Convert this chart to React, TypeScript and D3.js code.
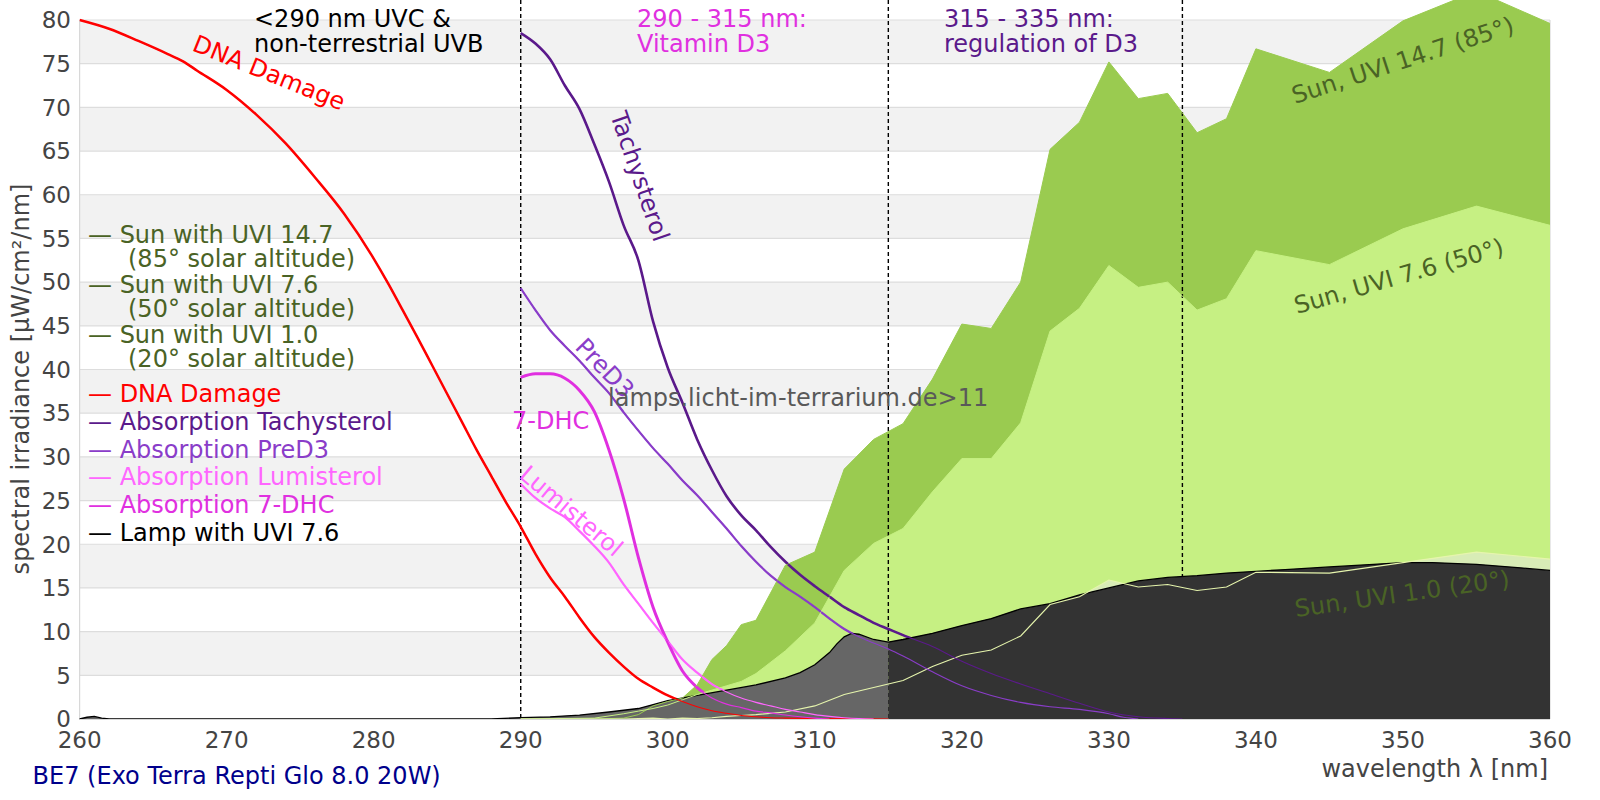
import React from 'react';
import * as d3 from 'd3';

type P = [number, number];

const W = 1600;
const H = 800;

const xTickValues = [260, 270, 280, 290, 300, 310, 320, 330, 340, 350, 360];
const yTickValues = [0, 5, 10, 15, 20, 25, 30, 35, 40, 45, 50, 55, 60, 65, 70, 75, 80];
const regionBounds = [290, 315, 335];

const dnaDamage: P[] = [[260,80],[262,79],[264,77.6],[266,76.1],[267,75.3],[268,74.2],[270,72.0],[272,69.2],[274,65.9],[276,62.0],[278,57.8],[280,52.7],[281,49.8],[282,46.7],[283,43.6],[284,40.4],[285,37.2],[286,34.0],[287,30.8],[288,27.8],[289,24.8],[290,22.0],[291,18.9],[292,16.2],[293,14.0],[294,11.6],[295,9.4],[296,7.6],[297,6.0],[298,4.6],[299,3.6],[300,2.7],[301,2.0],[302,1.4],[303,0.95],[304,0.65],[305,0.4],[306,0.25],[307,0.15],[308,0.1],[310,0.04],[315,0]];

const tachysterol: P[] = [[290,78.5],[291,77.3],[292,75.5],[293,72.5],[294,69.8],[295,65.8],[296,61.5],[297,56.5],[298,52.5],[299,45.5],[300,40.2],[301,36.2],[302,32.0],[303,28.5],[304,25.5],[305,23.3],[306,21.6],[307,19.7],[308,18.0],[309,16.5],[310,15.2],[311,14.0],[312,12.8],[313,11.9],[314,11.0],[315,10.3],[316,9.6],[318,8.3],[320,6.6],[322,5.2],[324,4.0],[326,2.9],[328,1.8],[330,0.8],[332,0.25],[334,0.05],[335,0]];

const preD3: P[] = [[290,49.3],[291,46.8],[292,44.5],[293,42.7],[294,41.0],[295,39.1],[296,37.3],[297,35.1],[298,33.0],[299,31.0],[300,29.2],[301,27.3],[302,25.6],[303,23.7],[304,21.8],[305,19.8],[306,18.0],[307,16.4],[308,15.1],[309,14.0],[310,12.8],[311,11.5],[312,10.3],[313,9.4],[314,8.7],[315,8.0],[316,7.2],[318,5.4],[320,3.8],[322,2.7],[324,1.9],[326,1.4],[328,1.1],[330,0.6],[331,0.2],[332,0]];

const lumisterol: P[] = [[290,26.9],[291,25.3],[292,24.1],[293,23.1],[294,21.5],[295,19.8],[296,17.9],[297,15.4],[298,13.2],[299,11.0],[300,8.9],[301,6.8],[302,5.3],[303,4.0],[304,3.1],[305,2.4],[306,1.9],[307,1.5],[308,1.1],[309,0.8],[310,0.5],[311,0.3],[312,0.15],[313,0.05],[314,0]];

const dhc7: P[] = [[290,39.1],[291,39.5],[292,39.5],[293,39.0],[294,37.6],[295,35.2],[296,30.8],[297,25.2],[298,18.5],[299,12.8],[300,8.8],[301,5.5],[302,3.6],[303,2.4],[304,1.7],[305,1.3],[306,0.9],[307,0.7],[308,0.45],[309,0.25],[310,0.1],[311,0]];

const sunWavelengths = [290, 295, 297, 298, 299, 300, 301, 302, 303, 304, 305, 306, 308, 310, 312, 314, 316, 318, 320, 322, 324, 326, 328, 330, 332, 334, 336, 338, 340, 345, 350, 355, 360];
const sunUvi147 = [0, 0, 0.1, 0.5, 1.5, 2.0, 2.4, 3.9, 6.8, 8.4, 10.8, 11.3, 17.6, 19.1, 28.6, 32.0, 33.8, 38.9, 45.2, 44.7, 50.0, 65.2, 68.3, 75.2, 71.0, 71.6, 67.1, 68.7, 76.7, 74.0, 79.9, 83.3, 79.6];
const sunUvi76 = [0, 0.1, 0.6, 0.9, 1.2, 1.6, 2.2, 2.8, 3.3, 3.8, 4.3, 5.2, 7.8, 11.0, 17.0, 20.1, 21.8, 26.0, 29.8, 29.8, 33.9, 44.4, 47.0, 51.9, 49.4, 50.0, 46.8, 48.1, 53.6, 52.0, 56.1, 58.7, 56.5];
const sunUvi10 = [0, 0, 0, 0.05, 0.1, 0, 0.1, 0.05, 0.15, 0.3, 0.4, 0.5, 0.8, 1.5, 2.8, 3.6, 4.4, 6.0, 7.3, 7.9, 9.5, 13.1, 14.0, 15.9, 15.1, 15.4, 14.7, 15.1, 16.8, 16.7, 17.9, 19.1, 18.3];

const lampWavelengths = [260, 260.5, 261, 261.5, 262, 288, 290, 292, 294, 296, 298, 300, 302, 304, 306, 308, 309, 310, 311, 311.5, 312, 312.5, 313, 314, 315, 316, 318, 320, 322, 324, 326, 328, 330, 332, 334, 336, 338, 340, 342, 345, 348, 350, 352, 355, 358, 360];
const lampUvi76 = [0, 0.2, 0.3, 0.1, 0, 0, 0.15, 0.25, 0.45, 0.8, 1.2, 2.1, 2.7, 3.3, 3.9, 4.7, 5.3, 6.2, 7.6, 8.6, 9.4, 9.8, 9.7, 9.1, 8.8, 9.1, 9.8, 10.7, 11.5, 12.6, 13.2, 14.2, 15.0, 15.8, 16.2, 16.4, 16.7, 16.9, 17.1, 17.4, 17.7, 17.9, 17.9, 17.7, 17.3, 17.0];

const legendSun = [
  ['— Sun with UVI 14.7', '(85° solar altitude)'],
  ['— Sun with UVI 7.6', '(50° solar altitude)'],
  ['— Sun with UVI 1.0', '(20° solar altitude)'],
];
const legendCurves = ['— DNA Damage', '— Absorption Tachysterol', '— Absorption PreD3', '— Absorption Lumisterol', '— Absorption 7-DHC', '— Lamp with UVI 7.6'];

const C = {
  dna: '#ff0000',
  tach: '#5b1a8b',
  pre: '#8a3dc9',
  lumi: '#ff66ff',
  dhc: '#e030e0',
  lamp: '#000000',
  sunText: '#4a6325',
  sun147: '#9acb50',
  sun76: '#c6f083',
  sun10: '#d8ecb6',
  sun10Line: '#e6f5ad',
  band: '#f2f2f2',
  grid: '#dddddd',
  axisText: '#444444',
};

const FONT = "'DejaVu Sans', Verdana, sans-serif";

export default function App() {
  const x = d3.scaleLinear().domain([260, 360]).range([79.6, 1550]);
  const y = d3.scaleLinear().domain([0, 80]).range([719, 20]);

  const zip = (w: number[], v: number[]): P[] => w.map((d, i) => [d, v[i]] as P);
  const s147 = zip(sunWavelengths, sunUvi147);
  const s76 = zip(sunWavelengths, sunUvi76);
  const s10 = zip(sunWavelengths, sunUvi10);
  const lamp = zip(lampWavelengths, lampUvi76);

  const smooth = d3.line<P>().x(d => x(d[0])).y(d => y(d[1])).curve(d3.curveMonotoneX);
  const straight = d3.line<P>().x(d => x(d[0])).y(d => y(d[1]));
  const area = d3.area<P>().x(d => x(d[0])).y0(y(0)).y1(d => y(d[1]));

  const left = x(260), right = x(360), bottom = y(0);

  const thick: [P[], string, number][] = [
    [dnaDamage, C.dna, 2.5],
    [tachysterol, C.tach, 2.6],
    [preD3, C.pre, 2.2],
    [lumisterol, C.lumi, 2.2],
    [dhc7, C.dhc, 3],
  ];

  return (
    <div>
      <style>{`body{margin:0;}`}</style>
      <svg width={W} height={H} style={{ display: 'block', fontFamily: FONT }}>
        <defs>
          <clipPath id="plot"><rect x={left} y={0} width={right - left} height={bottom} /></clipPath>
          <clipPath id="uvb"><rect x={left} y={0} width={x(315) - left} height={bottom} /></clipPath>
          <clipPath id="uva"><rect x={x(315)} y={0} width={right - x(315)} height={bottom} /></clipPath>
        </defs>
        <rect x={0} y={0} width={W} height={H} fill="#fff" />
        {yTickValues.slice(0, -1).map((v, i) => i % 2 === 1 ? (
          <rect key={'b' + v} x={left} y={y(v + 5)} width={right - left} height={y(v) - y(v + 5)} fill={C.band} />
        ) : null)}
        {yTickValues.map(v => (
          <line key={'g' + v} x1={left} x2={right} y1={y(v)} y2={y(v)} stroke={C.grid} strokeWidth={1.2} />
        ))}
        <line x1={left} x2={left} y1={y(80)} y2={bottom} stroke="#d8d8d8" strokeWidth={1.2} />
        <line x1={right} x2={right} y1={y(80)} y2={bottom} stroke="#d8d8d8" strokeWidth={1.2} />

        <g clipPath="url(#plot)">
          <path d={area(s147) || ''} fill={C.sun147} />
          <path d={area(s76) || ''} fill={C.sun76} />
          <path d={area(s10) || ''} fill={C.sun10} />
        </g>

        {regionBounds.map(b => (
          <line key={'d' + b} x1={x(b)} x2={x(b)} y1={0} y2={bottom} stroke="#000" strokeWidth={1.4} strokeDasharray="4,3" />
        ))}

        <g clipPath="url(#plot)" fill="none">
          {thick.map(([data, col, w], i) => (
            <path key={'t' + i} d={smooth(data) || ''} stroke={col} strokeWidth={w} />
          ))}
        </g>

        <path d={area(lamp) || ''} fill="#666666" clipPath="url(#uvb)" />
        <path d={area(lamp) || ''} fill="#333333" clipPath="url(#uva)" />
        <path d={straight(lamp) || ''} fill="none" stroke={C.lamp} strokeWidth={1.3} />

        <g clipPath="url(#plot)" fill="none">
          <path d={straight(s147) || ''} stroke={C.sun147} strokeWidth={1} />
          <path d={straight(s76) || ''} stroke={C.sun76} strokeWidth={1} />
          <path d={straight(s10) || ''} stroke={C.sun10Line} strokeWidth={1.1} />
          {thick.map(([data, col], i) => (
            <path key={'n' + i} d={smooth(data) || ''} stroke={col} strokeWidth={1.1} />
          ))}
        </g>
        <line x1={left} x2={right} y1={bottom + 0.5} y2={bottom + 0.5} stroke="#d8d8d8" strokeWidth={1.2} />

        <g fontSize={24} fill={C.sunText}>
          <text transform="translate(1295,104) rotate(-18)">Sun, UVI 14.7 (85°)</text>
          <text transform="translate(1297,314) rotate(-16)">Sun, UVI 7.6 (50°)</text>
          <text transform="translate(1296,617) rotate(-8)">Sun, UVI 1.0 (20°)</text>
        </g>

        <g fontSize={24}>
          <text transform="translate(191,50) rotate(22)" fill={C.dna}>DNA Damage</text>
          <text transform="translate(610,115) rotate(71)" fill={C.tach}>Tachysterol</text>
          <text transform="translate(574,348) rotate(46)" fill={C.pre}>PreD3</text>
          <text transform="translate(518,477) rotate(40)" fill={C.lumi}>Lumisterol</text>
          <text x={512} y={429} fill={C.dhc}>7-DHC</text>
          <text x={608} y={406} fill="#595959">lamps.licht-im-terrarium.de&gt;11</text>
        </g>

        <g fontSize={24}>
          <text x={254} y={27} fill="#000">&lt;290 nm UVC &amp;</text>
          <text x={254} y={51.5} fill="#000">non-terrestrial UVB</text>
          <text x={637} y={27} fill={C.dhc}>290 - 315 nm:</text>
          <text x={637} y={51.5} fill={C.dhc}>Vitamin D3</text>
          <text x={944} y={27} fill={C.tach}>315 - 335 nm:</text>
          <text x={944} y={51.5} fill={C.tach}>regulation of D3</text>
        </g>

        <g fontSize={24}>
          {legendSun.map((l, i) => (
            <g key={'ls' + i} fill={C.sunText}>
              <text x={88} y={242.7 + i * 50}>{l[0]}</text>
              <text x={128} y={266.7 + i * 50}>{l[1]}</text>
            </g>
          ))}
          {legendCurves.map((l, i) => (
            <text key={'lc' + i} x={88} y={402 + i * 27.8} fill={[C.dna, C.tach, C.pre, C.lumi, C.dhc, C.lamp][i]}>{l}</text>
          ))}
        </g>

        <g fontSize={23} fill={C.axisText}>
          {yTickValues.map(v => (
            <text key={'yl' + v} x={71} y={y(v)} dy="0.36em" textAnchor="end">{v}</text>
          ))}
          {xTickValues.map(v => (
            <text key={'xl' + v} x={x(v)} y={748} textAnchor="middle">{v}</text>
          ))}
        </g>
        <text transform={`translate(29,${379}) rotate(-90)`} textAnchor="middle" fontSize={24} fill={C.axisText}>spectral irradiance [µW/cm²/nm]</text>
        <text x={1548} y={777} textAnchor="end" fontSize={24} fill={C.axisText}>wavelength λ [nm]</text>
        <text x={32.6} y={783.5} fontSize={24} fill="#00008b">BE7 (Exo Terra Repti Glo 8.0 20W)</text>
      </svg>
    </div>
  );
}
